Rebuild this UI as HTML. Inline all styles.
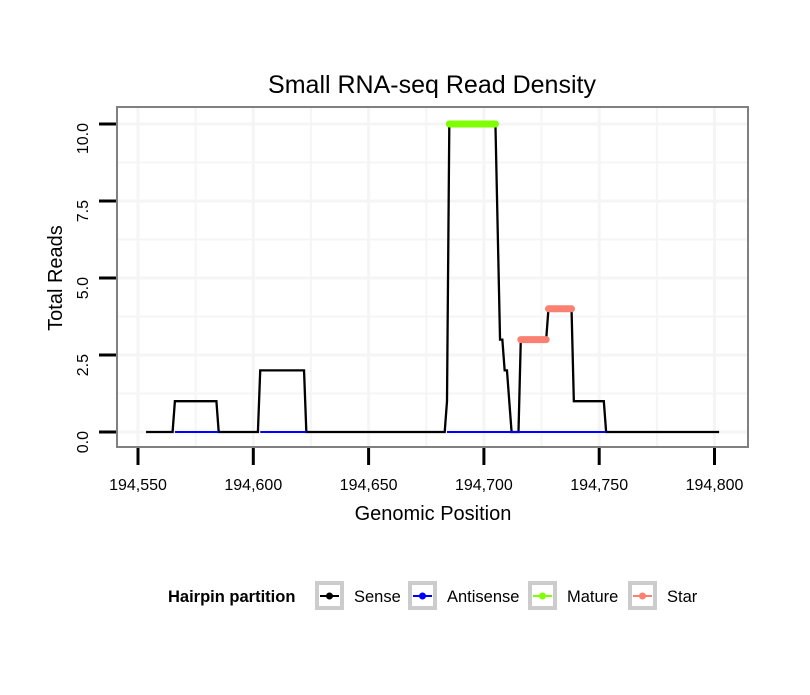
<!DOCTYPE html>
<html><head><meta charset="utf-8"><style>
body{margin:0;background:#fff}
svg text{font-family:"Liberation Sans",sans-serif}
</style></head><body>
<svg id="chart" width="810" height="690" viewBox="0 0 810 690" xmlns="http://www.w3.org/2000/svg">
<rect width="810" height="690" fill="#fff"/>
<text x="432" y="93" font-size="25" text-anchor="middle">Small RNA-seq Read Density</text>
<g id="grid"></g>
<g id="series"></g>
<rect x="117" y="107" width="631" height="340" fill="none" stroke="#808080" stroke-width="2"/>
<g id="axes"></g>
<text x="433" y="520" font-size="20" text-anchor="middle">Genomic Position</text>
<text transform="translate(62,278) rotate(-90)" font-size="20" text-anchor="middle">Total Reads</text>
<g>
<text x="168" y="602" font-size="16.5" font-weight="bold">Hairpin partition</text>
<g id="legend"></g>
</g>
</svg>
<script>
const xTicks=[194550,194600,194650,194700,194750,194800];
const xTickLabels=["194,550","194,600","194,650","194,700","194,750","194,800"];
const yTicks=[0,2.5,5,7.5,10];
const yTickLabels=["0.0","2.5","5.0","7.5","10.0"];
const senseX=[194553.5,194565,194566,194584,194585,194602,194603,194622,194623,194683,194684,194685,194705,194707,194708,194709,194710,194712,194715,194716,194727,194728,194738,194739,194752,194753,194802];
const senseY=[0,0,1,1,0,0,2,2,0,0,1,10,10,3,3,2,2,0,0,3,3,4,4,1,1,0,0];
const antisenseSegs=[[194566,194585],[194603,194623],[194684,194753]];
const matureX=[194685,194705];const matureY=[10,10];
const star1X=[194716,194727];const star1Y=[3,3];
const star2X=[194728,194738];const star2Y=[4,4];
const legendLabels=["Sense","Antisense","Mature","Star"];
const legendColors=["#000000","#0000ff","#7fff00","#fa8072"];

const NS="http://www.w3.org/2000/svg";
const sx=v=>138+(v-194550)*2.306;
const sy=v=>432-v*30.8;
function mk(tag,attrs,parent){const e=document.createElementNS(NS,tag);for(const k in attrs)e.setAttribute(k,attrs[k]);parent.appendChild(e);return e;}
const grid=document.getElementById('grid'),series=document.getElementById('series'),axes=document.getElementById('axes'),legend=document.getElementById('legend');
for(let i=0;i<xTicks.length;i++){
  for(const v of [xTicks[i],xTicks[i]+25]){const x=sx(v);if(x>748)continue;
    const l=mk('line',{x1:x,x2:x,y1:108,y2:446,stroke:'#f5f5f5','stroke-width':v===xTicks[i]?3:2},grid);
    
    }
  const t=mk('line',{x1:sx(xTicks[i]),x2:sx(xTicks[i]),y1:448,y2:465,stroke:'#000','stroke-width':3},axes);
  
  
  const tx=mk('text',{x:sx(xTicks[i]),y:490,'font-size':16,'text-anchor':'middle'},axes);tx.textContent=xTickLabels[i];
  
  
}
for(let i=0;i<yTicks.length;i++){
  for(const v of [yTicks[i],yTicks[i]+1.25]){const y=sy(v);if(y<108)continue;
    const l=mk('line',{x1:118,x2:747,y1:y,y2:y,stroke:'#f5f5f5','stroke-width':v===yTicks[i]?3:2},grid);
    
    }
  const t=mk('line',{x1:99,x2:116,y1:sy(yTicks[i]),y2:sy(yTicks[i]),stroke:'#000','stroke-width':3},axes);
  
  
  const tx=mk('text',{transform:`translate(88,${sy(yTicks[i])-1}) rotate(-90)`,'font-size':16,'text-anchor':'end'},axes);tx.textContent=yTickLabels[i];
  
  
}
const sp=mk('polyline',{points:senseX.map((x,i)=>sx(x)+','+sy(senseY[i])).join(' '),fill:'none',stroke:'#000','stroke-width':2.3},series);


for(const s of antisenseSegs){
  const l=mk('line',{x1:sx(s[0]),x2:sx(s[1]),y1:sy(0),y2:sy(0),stroke:'#0000ff','stroke-width':2},series);
  
  
}
function thick(xs,ys,c,name){const l=mk('polyline',{points:xs.map((x,i)=>sx(x)+','+sy(ys[i])).join(' '),fill:'none',stroke:c,'stroke-width':7,'stroke-linecap':'round'},series);
  
  }
thick(matureX,matureY,'#7fff00','mature-line');
thick(star1X,star1Y,'#fa8072','star-line-1');
thick(star2X,star2Y,'#fa8072','star-line-2');
const bx=[315,408,528,628];
for(let i=0;i<legendLabels.length;i++){
  const g=mk('g',{},legend);
  
  
  mk('rect',{x:bx[i]+2,y:583,width:25,height:25,fill:'#fff',stroke:'#cccccc','stroke-width':4},g);
  mk('line',{x1:bx[i]+5,x2:bx[i]+24,y1:596,y2:596,stroke:legendColors[i],'stroke-width':2},g);
  mk('circle',{cx:bx[i]+14.5,cy:596,r:3.5,fill:legendColors[i]},g);
  const t=mk('text',{x:bx[i]+39,y:602,'font-size':16.5},g);t.textContent=legendLabels[i];
}
</script>
</body></html>
